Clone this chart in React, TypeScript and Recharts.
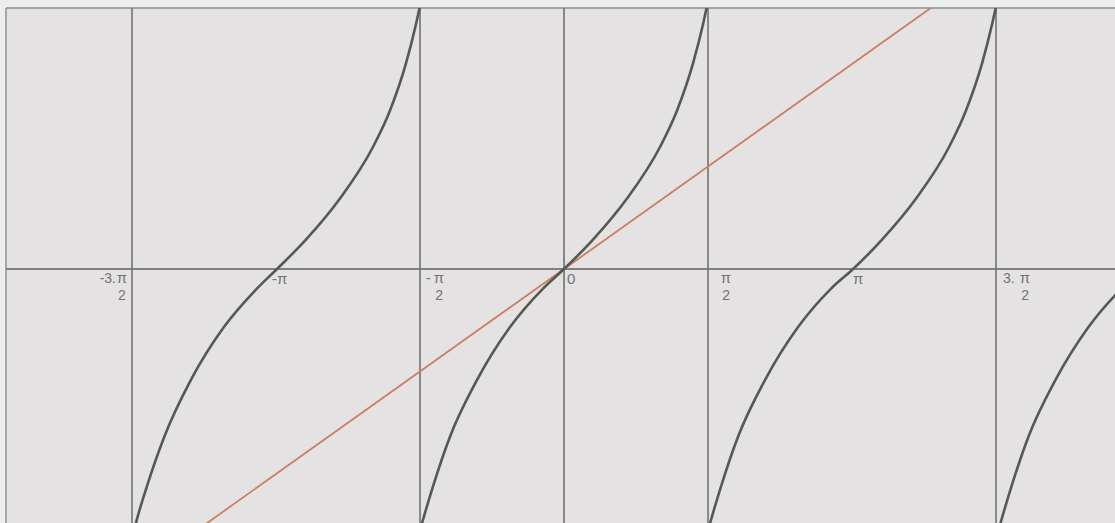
import React from "react";
import {
  LineChart,
  Line,
  XAxis,
  YAxis,
  ReferenceLine,
  ReferenceArea,
  ReferenceDot,
} from "recharts";

const PI = Math.PI;

// tangent branches, sampled along each curve (x in radians)
const branchLeftX = [-4.69, -4.66, -4.55, -4.36, -4.07, -3.71, -3.35, -3.131, -2.815, -2.444, -2.084, -1.898, -1.724, -1.615, -1.576];
const branchLeftY = [-4.0, -3.84, -3.33, -2.57, -1.7, -0.89, -0.3, 0, 0.45, 1.08, 1.87, 2.43, 3.15, 3.75, 4.0];

const branchMidX = [-1.571, -1.538, -1.429, -1.244, -0.949, -0.589, -0.229, 0, 0.316, 0.687, 1.047, 1.233, 1.407, 1.516, 1.555];
const branchMidY = [-4.0, -3.84, -3.33, -2.57, -1.7, -0.89, -0.3, 0, 0.45, 1.08, 1.87, 2.43, 3.15, 3.75, 4.0];

const branchRightX = [1.571, 1.604, 1.713, 1.898, 2.193, 2.553, 2.913, 3.153, 3.469, 3.84, 4.2, 4.385, 4.56, 4.669, 4.709];
const branchRightY = [-4.0, -3.84, -3.33, -2.57, -1.7, -0.89, -0.3, 0, 0.45, 1.08, 1.87, 2.43, 3.15, 3.75, 4.0];

const branchFarX = [4.739, 4.772, 4.881, 5.066, 5.361, 5.721, 6.081, 6.31];
const branchFarY = [-4.0, -3.84, -3.33, -2.57, -1.7, -0.89, -0.3, 0];

// y = x
const identityX = [-4, 4];
const identityY = [-4, 4];

// vertical asymptotes
const asymptotes = [-3 * PI / 2, -PI / 2, PI / 2, 3 * PI / 2];

// x-axis labels: lead text, fraction numerator/denominator or plain text
const tickValues = [-3 * PI / 2, -PI, -PI / 2, 0, PI / 2, PI, 3 * PI / 2];
const tickLead = ["-3.", "", "-", "", "", "", "3."];
const tickNum = ["π", "-π", "π", "0", "π", "π", "π"];
const tickDen = ["2", "", "2", "", "2", "", "2"];

const X_DOMAIN: [number, number] = [-6.087, 6.25];
const Y_DOMAIN: [number, number] = [-4, 4];

const toPoints = (xs: number[], ys: number[]) => xs.map((x, i) => ({ x, y: ys[i] }));

const LABEL_COLOR = "#737373";
const LABEL_FONT = "'Liberation Sans', Arial, sans-serif";

// label layout offsets, per tick: [leadX, leadAnchor, fracCenterX]
const labelLayout: [number, "start" | "end", number][] = [
  [-16, "end", -10],
  [0, "start", -4],
  [6, "start", 19],
  [0, "start", 3],
  [0, "start", 18],
  [0, "start", 1],
  [7, "start", 29],
];

function TickLabel({ viewBox, index }: { viewBox?: any; index: number }) {
  if (!viewBox) return null;
  const cx = viewBox.x + (viewBox.width || 0) / 2;
  const cy = viewBox.y + (viewBox.height || 0) / 2;
  const [leadDx, leadAnchor, fracDx] = labelLayout[index];
  const lead = tickLead[index];
  const den = tickDen[index];
  const style = { fill: LABEL_COLOR, fontFamily: LABEL_FONT, fontSize: 14 };
  if (!den) {
    return (
      <text x={cx + fracDx} y={cy + 15} {...style} fontSize={15} textAnchor="start">
        {tickNum[index]}
      </text>
    );
  }
  return (
    <g>
      {lead && (
        <text x={cx + (leadDx || 0)} y={cy + 14} {...style} textAnchor={leadAnchor}>
          {lead}
        </text>
      )}
      <text x={cx + fracDx} y={cy + 14} {...style} fontSize={15} textAnchor="middle">
        {tickNum[index]}
      </text>
      <text x={cx + fracDx} y={cy + 31} {...style} textAnchor="middle">
        {den}
      </text>
    </g>
  );
}

const PLOT_W = 1131;
const PLOT_H = 522;
const LEFT = 6;
const TOP = 8;

export default function App() {
  const curveColor = "#535a54";
  return (
    <div
      style={{
        position: "absolute",
        left: 0,
        top: 0,
        width: 1115,
        height: 523,
        overflow: "hidden",
        background: "#eceef0",
      }}
    >
      <LineChart
        width={PLOT_W + LEFT}
        height={PLOT_H + TOP}
        margin={{ top: TOP, left: LEFT, right: 0, bottom: 0 }}
      >
        <XAxis
          type="number"
          dataKey="x"
          domain={X_DOMAIN}
          allowDataOverflow
          hide
        />
        <YAxis type="number" dataKey="y" domain={Y_DOMAIN} allowDataOverflow hide />

        {/* paper inside the frame */}
        <ReferenceArea
          x1={X_DOMAIN[0]}
          x2={X_DOMAIN[1]}
          y1={Y_DOMAIN[0]}
          y2={Y_DOMAIN[1]}
          fill="#e5e2e3"
          fillOpacity={1}
          stroke="none"
        />

        {/* frame edges */}
        <ReferenceLine y={Y_DOMAIN[1]} stroke="#8f908b" strokeWidth={1.5} />
        <ReferenceLine x={X_DOMAIN[0]} stroke="#8f908b" strokeWidth={1.5} />

        {/* axes */}
        <ReferenceLine y={0} stroke="#80817c" strokeWidth={2} />
        <ReferenceLine x={0} stroke="#6f706b" strokeWidth={1.6} />

        {asymptotes.map((a) => (
          <ReferenceLine key={a} x={a} stroke="#72736e" strokeWidth={1.6} />
        ))}

        {tickValues.map((t, i) => (
          <ReferenceDot
            key={"t" + i}
            x={t}
            y={0}
            r={0}
            fill="none"
            stroke="none"
            label={{ content: (p: any) => <TickLabel viewBox={p.viewBox} index={i} /> }}
          />
        ))}

        <Line
          data={toPoints(identityX, identityY)}
          dataKey="y"
          type="linear"
          stroke="#c9805f"
          strokeWidth={1.8}
          dot={false}
          isAnimationActive={false}
        />

        {[
          [branchLeftX, branchLeftY],
          [branchMidX, branchMidY],
          [branchRightX, branchRightY],
          [branchFarX, branchFarY],
        ].map(([xs, ys], i) => (
          <Line
            key={"b" + i}
            data={toPoints(xs, ys)}
            dataKey="y"
            type="monotone"
            stroke={curveColor}
            strokeWidth={2.6}
            dot={false}
            isAnimationActive={false}
          />
        ))}
      </LineChart>
    </div>
  );
}
